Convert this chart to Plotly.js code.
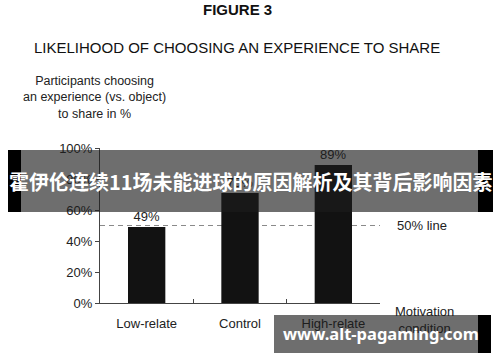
<!DOCTYPE html>
<html><head><meta charset="utf-8">
<script src="https://cdn.plot.ly/plotly-3.0.1.min.js"></script>
<style>html,body{margin:0;padding:0;background:#fff;overflow:hidden}#chart{width:500px;height:362px}</style>
</head><body><div id="chart"></div>
<script>
const categories = ["Low-relate", "Control", "High-relate"];
const shareValues = [49, 71, 89];
const valueLabels = ["49%", "75%", "89%"];
const yTickValues = [0, 20, 40, 60, 80, 100];
const yTickLabels = ["0%", "20%", "40%", "60%", "80%", "100%"];
const referenceLevel = 50;
const referenceLabel = "50% line";
const figureLabel = "FIGURE 3";
const chartTitle = "LIKELIHOOD OF CHOOSING AN EXPERIENCE TO SHARE";
const yTitleLines = ["Participants choosing", "an experience (vs. object)", "to share in %"];
const xTitleLines = ["Motivation", "condition"];
const bannerText = "霍伊伦连续11场未能进球的原因解析及其背后影响因素";
const watermarkText = "www.alt-pagaming.com";

const W = 500, H = 362, M = {l: 100, r: 120, t: 148, b: 59};
const px = x => (x - M.l) / (W - M.l - M.r);
const py = y => (H - M.b - y) / (H - M.t - M.b);
const FONT = "Liberation Sans, Arial, Helvetica, sans-serif";
const TXT = "#222";
const veil = "rgba(28,28,28,0.64)";

const trace = {
  type: "bar",
  x: categories,
  y: shareValues,
  text: valueLabels,
  textposition: "outside",
  textfont: {family: FONT, size: 13, color: TXT},
  cliponaxis: false,
  marker: {color: "#121212", line: {width: 0}},
  hoverinfo: "none"
};

const layout = {
  width: W, height: H,
  margin: M,
  paper_bgcolor: "#fff", plot_bgcolor: "#fff",
  showlegend: false,
  bargap: 0.6,
  font: {family: FONT, size: 13, color: TXT},
  xaxis: {
    type: "category", range: [-0.5, 2.5], fixedrange: true,
    showline: true, linecolor: "#444", linewidth: 1,
    ticks: "inside", tickson: "boundaries", ticklen: 4, tickcolor: "#444",
    tickfont: {family: FONT, size: 13, color: TXT},
    ticklabelstandoff: 8,
    showgrid: false, zeroline: false
  },
  yaxis: {
    range: [0, 100], fixedrange: true,
    tickvals: yTickValues, ticktext: yTickLabels,
    showline: true, linecolor: "#444", linewidth: 1,
    ticks: "outside", ticklen: 4, tickcolor: "#444",
    tickfont: {family: FONT, size: 13, color: TXT},
    showgrid: false, zeroline: false
  },
  shapes: [
    {type: "line", layer: "below", xref: "paper", x0: 0, x1: 1, yref: "y", y0: referenceLevel, y1: referenceLevel,
     line: {color: "#8a8a8a", width: 1, dash: "5px,4px"}},
    {type: "rect", xref: "paper", yref: "paper", x0: px(21), x1: px(478), y0: py(212), y1: py(150),
     fillcolor: veil, line: {width: 0}},
    {type: "rect", xref: "paper", yref: "paper", x0: px(8), x1: px(21), y0: py(212), y1: py(150),
     fillcolor: "#000", line: {width: 0}},
    {type: "rect", xref: "paper", yref: "paper", x0: px(478), x1: px(493), y0: py(212), y1: py(150),
     fillcolor: "#000", line: {width: 0}},
    {type: "rect", xref: "paper", yref: "paper", x0: px(478), x1: px(491), y0: py(353), y1: py(315),
     fillcolor: "#000", line: {width: 0}}
  ],
  annotations: [
    {text: "<b>" + figureLabel + "</b>", xref: "paper", yref: "paper", x: px(237), y: py(9),
     xanchor: "center", yanchor: "middle", showarrow: false, font: {family: FONT, size: 15, color: "#111"}},
    {text: chartTitle, xref: "paper", yref: "paper", x: px(237), y: py(48),
     xanchor: "center", yanchor: "middle", showarrow: false, font: {family: FONT, size: 15, color: "#111"}},
    {text: yTitleLines.join("<br>"), xref: "paper", yref: "paper", x: px(94), y: py(97),
     xanchor: "center", yanchor: "middle", align: "center", showarrow: false, font: {family: FONT, size: 12.5, color: TXT}},
    {text: referenceLabel, xref: "paper", yref: "y", x: px(422), y: referenceLevel,
     xanchor: "center", yanchor: "middle", showarrow: false, font: {family: FONT, size: 13, color: TXT}},
    {text: "<b>" + bannerText + "</b>", xref: "paper", yref: "paper", x: px(250.5), y: py(181),
     xanchor: "center", yanchor: "middle", showarrow: false,
     font: {family: "Noto Sans CJK SC, sans-serif", size: 20, color: "#fff"}},
    {text: xTitleLines.join("<br>"), xref: "paper", yref: "paper", x: px(424), y: py(320),
     xanchor: "center", yanchor: "middle", align: "center", showarrow: false, font: {family: FONT, size: 13, color: TXT}},
    {text: " ", xref: "paper", yref: "paper", x: px(274), y: py(315), xanchor: "left", yanchor: "top",
     width: 204, height: 38, borderpad: 0, borderwidth: 0, bgcolor: veil, showarrow: false, font: {size: 10}},
    {text: "<b>" + watermarkText + "</b>", xref: "paper", yref: "paper", x: px(381), y: py(333),
     xanchor: "center", yanchor: "middle", showarrow: false,
     font: {family: "Noto Sans, DejaVu Sans, sans-serif", size: 16.5, color: "#fff"}}
  ]
};

Plotly.newPlot("chart", [trace], layout, {staticPlot: true, displayModeBar: false});
</script>
</body></html>
